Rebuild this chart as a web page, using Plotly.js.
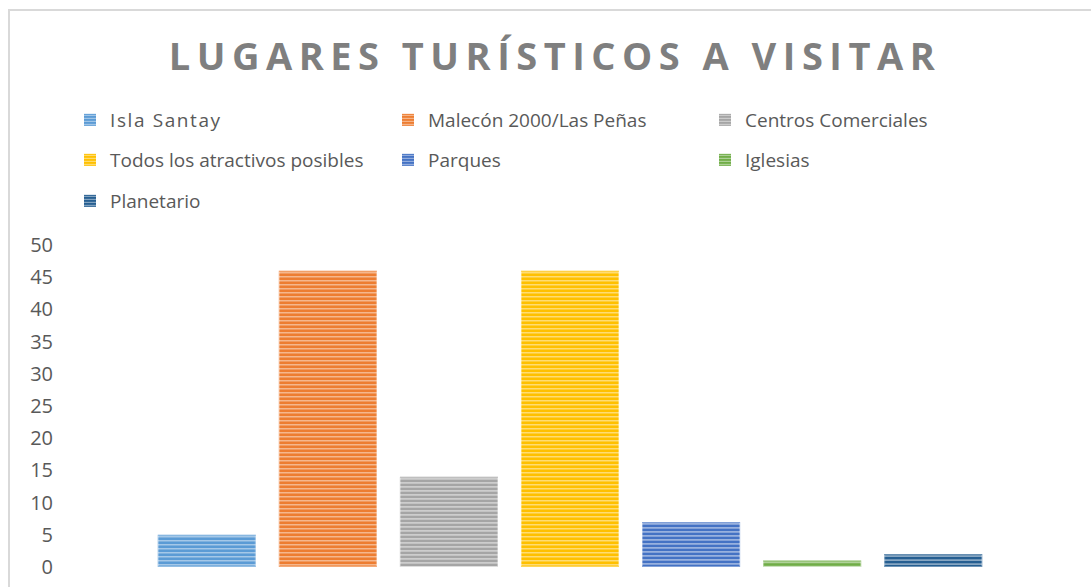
<!DOCTYPE html>
<html>
<head>
<meta charset="utf-8">
<script src="https://cdn.plot.ly/plotly-3.0.1.min.js"></script>
<style>
  html, body { margin: 0; padding: 0; background: #fff; }
  #wrap { position: relative; width: 1091px; height: 587px; }
  #chart { width: 1091px; height: 587px; }
  #frame { position: absolute; left: 8px; top: 9px; right: 0; bottom: 0;
           border-left: 2px solid #d9d9d9; border-top: 2px solid #d9d9d9; pointer-events: none; }
  .gtitle { letter-spacing: 6.5px; }
  .legendtext { letter-spacing: 1.6px; }
</style>
</head>
<body>
<div id="wrap">
  <div id="chart"></div>
  <div id="frame"></div>
</div>
<script>
const seriesNames = ["Isla Santay", "Malecón 2000/Las Peñas", "Centros Comerciales",
                     "Todos los atractivos posibles", "Parques", "Iglesias", "Planetario"];
const seriesValues = [5, 46, 14, 46, 7, 1, 2];
const seriesColors = ["#5B9BD5", "#ED7D31", "#A5A5A5", "#FFC000", "#4472C4", "#70AD47", "#255E91"];
const category = ["Total"];
const yTicks = [0, 5, 10, 15, 20, 25, 30, 35, 40, 45, 50];

const legendPos = [[70, 120], [388, 120], [705, 120],
                   [70, 160], [388, 160], [705, 160],
                   [70, 201]];

const plotL = 57, plotW = 1026, plotT = 245, plotH = 322;

const traces = seriesNames.map((n, i) => ({
  type: "bar",
  name: n,
  x: category,
  y: [seriesValues[i]],
  legend: i === 0 ? "legend" : "legend" + (i + 1),
  marker: { color: seriesColors[i] },
  hoverinfo: "name+y"
}));

const layout = {
  width: 1091, height: 587,
  margin: { l: plotL, r: 1091 - plotL - plotW, t: plotT, b: 587 - plotT - plotH, pad: 0 },
  paper_bgcolor: "#fff", plot_bgcolor: "#fff",
  title: {
    text: "<b>LUGARES TURÍSTICOS A VISITAR</b>",
    font: { family: "Open Sans", size: 38, color: "#7f7f7f" },
    x: 555 / 1091, xanchor: "center", xref: "container",
    y: 1 - 57 / 587, yanchor: "middle", yref: "container"
  },
  barmode: "group",
  bargap: 0.174,
  bargroupgap: 0.19,
  showlegend: true,
  xaxis: { showticklabels: false, showgrid: false, zeroline: false, showline: false, ticks: "" },
  yaxis: {
    range: [0, 50], tickvals: yTicks, ticktext: yTicks.map(String),
    showgrid: false, zeroline: false, showline: false, ticks: "",
    ticklabelstandoff: 3,
    tickfont: { family: "Open Sans", size: 20, color: "#595959" }
  },
  font: { family: "Open Sans", color: "#595959" }
};

legendPos.forEach((p, i) => {
  const key = i === 0 ? "legend" : "legend" + (i + 1);
  layout[key] = {
    x: (p[0] - plotL) / plotW, xanchor: "left",
    y: (plotT + plotH - p[1]) / plotH, yanchor: "middle",
    orientation: "h",
    bgcolor: "rgba(0,0,0,0)", borderwidth: 0,
    font: { family: "Open Sans", size: 19, color: "#595959" }
  };
});

const SVGNS = "http://www.w3.org/2000/svg";
function addStripes(el, pitch, sw, op, edge) {
  const b = el.getBBox();
  if (!(b.width > 0 && b.height > 0)) return;
  let d = "";
  for (let y = b.y + pitch / 2; y < b.y + b.height; y += pitch) {
    d += "M" + b.x + "," + y.toFixed(2) + "H" + (b.x + b.width);
  }
  const g = document.createElementNS(SVGNS, "g");
  g.setAttribute("class", "stripes");
  g.setAttribute("pointer-events", "none");
  const s = document.createElementNS(SVGNS, "path");
  s.setAttribute("d", d);
  s.setAttribute("stroke", "#ffffff");
  s.setAttribute("stroke-opacity", op);
  s.setAttribute("stroke-width", sw);
  s.setAttribute("fill", "none");
  g.appendChild(s);
  if (edge) {
    const r = document.createElementNS(SVGNS, "rect");
    r.setAttribute("x", b.x + 0.5); r.setAttribute("y", b.y + 0.5);
    r.setAttribute("width", Math.max(b.width - 1, 0)); r.setAttribute("height", Math.max(b.height - 1, 0));
    r.setAttribute("fill", "none");
    r.setAttribute("stroke", "#ffffff");
    r.setAttribute("stroke-opacity", 0.35);
    r.setAttribute("stroke-width", 1);
    g.appendChild(r);
  }
  if (el.getAttribute("transform")) g.setAttribute("transform", el.getAttribute("transform"));
  el.parentNode.insertBefore(g, el.nextSibling);
}

function decorate() {
  document.querySelectorAll("#chart .stripes").forEach(g => g.remove());
  document.querySelectorAll("#chart .trace.bars .point path").forEach(p => addStripes(p, 4, 1.6, 0.45, true));
  document.querySelectorAll("#chart .legendpoints path").forEach(p => addStripes(p, 3, 1, 0.5, false));
}

Plotly.newPlot("chart", traces, layout, { displayModeBar: false }).then(() => {
  decorate();
  setTimeout(decorate, 300);
});
</script>
</body>
</html>
